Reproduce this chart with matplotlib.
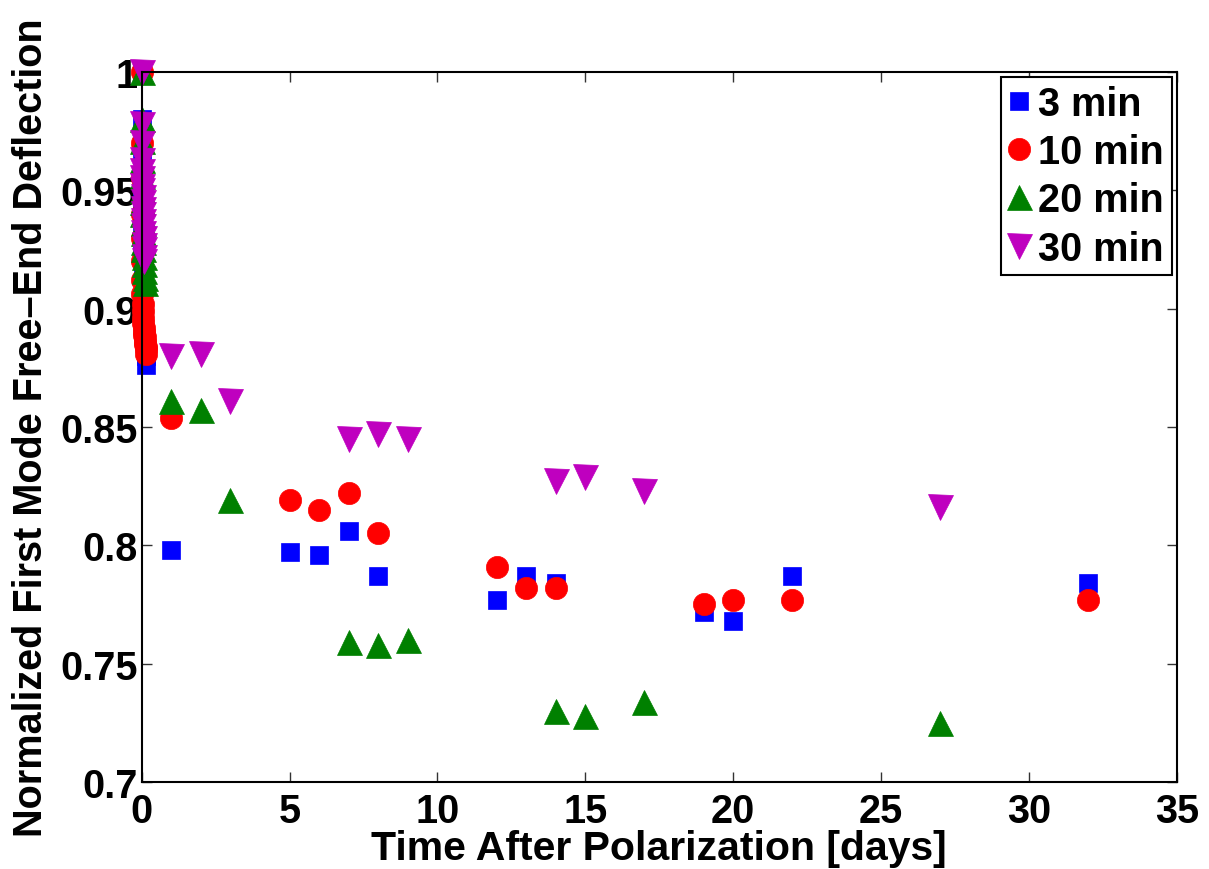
import matplotlib
matplotlib.use("Agg")
import matplotlib.pyplot as plt

# time after polarization [days] and normalized deflection, per polarization time
# early readings (first hours) are clustered right at t ~ 0
t_3min = [0, 0.002, 0.004, 0.007, 0.01, 0.014, 0.02, 0.03, 0.04, 0.05, 0.07, 0.1, 0.13, 0.16,
          1, 5, 6, 7, 8, 12, 13, 14, 19, 20, 22, 32]
v_3min = [1.0, 0.98, 0.965, 0.955, 0.945, 0.935, 0.925, 0.915, 0.905, 0.898, 0.89, 0.885, 0.88, 0.876,
          0.798, 0.797, 0.796, 0.806, 0.787, 0.777, 0.787, 0.784, 0.772, 0.768, 0.787, 0.784]

t_10min = [0, 0.002, 0.004, 0.007, 0.01, 0.014, 0.02, 0.025, 0.03, 0.04, 0.05, 0.06, 0.07, 0.08,
           0.09, 0.1, 0.11, 0.12, 0.13, 0.14, 0.15,
           1, 5, 6, 7, 8, 12, 13, 14, 19, 20, 22, 32]
v_10min = [1.0, 0.97, 0.955, 0.94, 0.93, 0.92, 0.912, 0.906, 0.902, 0.899, 0.896, 0.894, 0.892, 0.89,
           0.889, 0.888, 0.886, 0.885, 0.884, 0.883, 0.881,
           0.854, 0.819, 0.815, 0.822, 0.805, 0.791, 0.782, 0.782, 0.775, 0.777, 0.777, 0.777]

t_20min = [0, 0.002, 0.004, 0.007, 0.01, 0.014, 0.02, 0.025, 0.03, 0.04, 0.05, 0.06, 0.07, 0.08,
           0.09, 0.1, 0.11,
           1, 2, 3, 7, 8, 9, 14, 15, 17, 27]
v_20min = [1.0, 0.98, 0.971, 0.963, 0.956, 0.95, 0.945, 0.94, 0.936, 0.932, 0.928, 0.925, 0.922, 0.919,
           0.916, 0.913, 0.911,
           0.861, 0.857, 0.819, 0.759, 0.758, 0.760, 0.730, 0.728, 0.734, 0.725]

t_30min = [0, 0.002, 0.004, 0.007, 0.01, 0.014, 0.02, 0.025, 0.03, 0.035, 0.04, 0.045, 0.05, 0.055,
           0.06, 0.065, 0.07, 0.075, 0.08, 0.09,
           1, 2, 3, 7, 8, 9, 14, 15, 17, 27]
v_30min = [1.0, 0.978, 0.97, 0.963, 0.958, 0.955, 0.952, 0.95, 0.947, 0.945, 0.942, 0.94, 0.937, 0.935,
           0.932, 0.93, 0.927, 0.925, 0.922, 0.92,
           0.880, 0.881, 0.861, 0.845, 0.847, 0.845, 0.827, 0.829, 0.823, 0.816]

series = [
    ("3 min", t_3min, v_3min, "s", (0, 0, 1), 13),
    ("10 min", t_10min, v_10min, "o", (1, 0, 0), 16),
    ("20 min", t_20min, v_20min, "^", (0, 0.5, 0), 18),
    ("30 min", t_30min, v_30min, "v", (0.75, 0, 0.75), 18),
]

plt.rcParams['font.family'] = ['Liberation Sans', 'DejaVu Sans']
plt.rcParams['font.weight'] = 'bold'
plt.rcParams['font.size'] = 28.5

fig = plt.figure(figsize=(12.09, 8.7), dpi=100)
ax = fig.add_axes([0.1172, 0.1, 0.8561, 0.8161])

for label, t, v, marker, color, ms in series:
    ax.plot(t, v, linestyle='none', marker=marker, markersize=ms,
            markerfacecolor=color, markeredgecolor=color, markeredgewidth=0.5,
            label=label, clip_on=False)

ax.set_xlim(0, 35)
ax.set_ylim(0.7, 1.0)
ax.set_xticks([0, 5, 10, 15, 20, 25, 30, 35])
ax.set_yticks([0.7, 0.75, 0.8, 0.85, 0.9, 0.95, 1.0])
ax.set_yticklabels(['0.7', '0.75', '0.8', '0.85', '0.9', '0.95', '1'])

ax.tick_params(direction='in', length=7, width=1, top=True, right=True,
               labelsize=28.5, color='#333333')
ax.tick_params(axis='x', pad=7.5)
ax.tick_params(axis='y', pad=3)
for sp in ax.spines.values():
    sp.set_linewidth(1.5)

ax.set_xlabel('Time After Polarization [days]', fontsize=29.5, fontweight='bold', labelpad=-1)
ax.set_ylabel('Normalized First Mode Free\u2013End Deflection', fontsize=28.5,
              fontweight='bold', labelpad=7)

leg = ax.legend(loc='upper right', fontsize=28.5, frameon=True, fancybox=False,
                edgecolor='black', framealpha=1, handlelength=0.5, handletextpad=0.25,
                labelspacing=0.26, borderpad=0.2, borderaxespad=0.12, numpoints=1)
leg.get_frame().set_linewidth(1.5)

fig.savefig('out.png', dpi=100)
